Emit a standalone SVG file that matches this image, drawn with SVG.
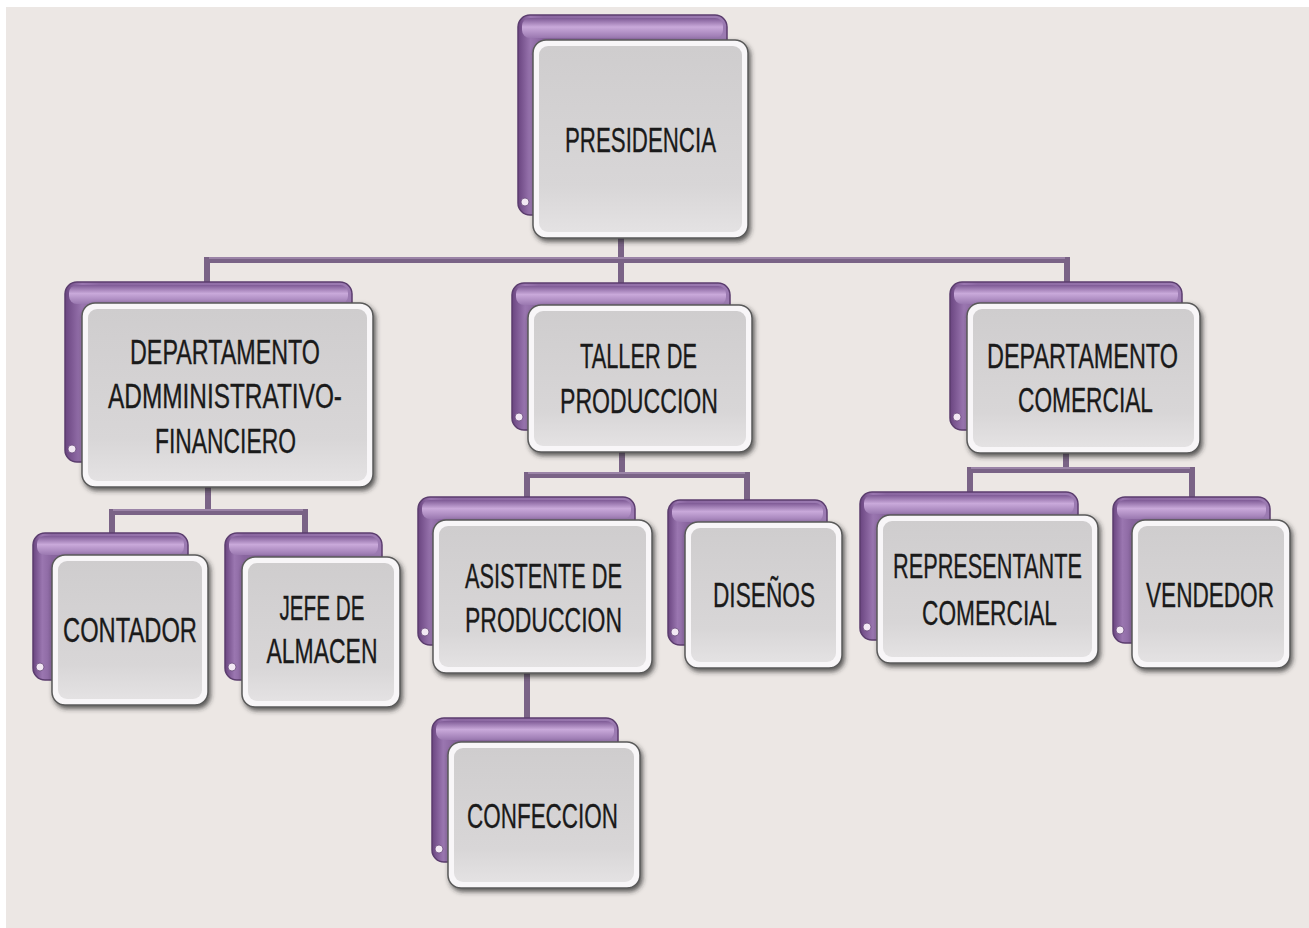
<svg xmlns="http://www.w3.org/2000/svg" width="1309" height="928" viewBox="0 0 1309 928">
<defs>
<linearGradient id="pSide" x1="0" y1="0" x2="1" y2="0">
<stop offset="0" stop-color="#6A4580"/>
<stop offset="0.06" stop-color="#9A76B0"/>
<stop offset="0.12" stop-color="#8A66A0"/>
<stop offset="1" stop-color="#9C7BB2"/>
</linearGradient>
<linearGradient id="pTop" x1="0" y1="0" x2="0" y2="1">
<stop offset="0" stop-color="#7E5A95"/>
<stop offset="0.45" stop-color="#C9A9DA"/>
<stop offset="1" stop-color="#9A78B0"/>
</linearGradient>
<linearGradient id="card" x1="0" y1="0" x2="0" y2="1">
<stop offset="0" stop-color="#CFCDCE"/>
<stop offset="0.75" stop-color="#D8D6D7"/>
<stop offset="1" stop-color="#E4E2E3"/>
</linearGradient>
<filter id="sh" x="-10%" y="-10%" width="125%" height="125%">
<feDropShadow dx="2" dy="3" stdDeviation="2.5" flood-color="#2a2a2a" flood-opacity="0.75"/>
</filter>
</defs>
<style>
.back{fill:url(#pSide);stroke:#5B3D6E;stroke-width:1.5}
.band{fill:url(#pTop)}
.dot{fill:#F2E8F4;stroke:#6A4A7C;stroke-width:0.8}
.outer{fill:#F8F6F8;stroke:#5A5A5A;stroke-width:1.5;filter:url(#sh)}
.inner{fill:url(#card)}
.t{font-family:"Liberation Sans Narrow","Liberation Sans",Arial,sans-serif;font-size:35px;fill:#1A1A1A;stroke:#1A1A1A;stroke-width:0.35;text-anchor:middle}
.cn{fill:none;stroke:#7A6386;stroke-width:6}
.ch{fill:none;stroke:#A690B2;stroke-width:1.5}
</style>
<rect x="0" y="0" width="1309" height="928" fill="#FFFFFF"/>
<rect x="6" y="7" width="1303" height="921" fill="#ECE7E4"/>

<g id="connectors">
<path class="cn" d="M621 238V260M207 283V260H1067V283M621 260V285"/>
<path class="cn" d="M208 487V512M112 535V512H305V535"/>
<path class="cn" d="M622 452V475M527 499V475H747V502"/>
<path class="cn" d="M1066 453V470M970 494V470H1192V499"/>
<path class="cn" d="M527 673V720"/>
<path class="ch" d="M209 258H1065M113 510H303M528 473H745M971 468H1190"/>
</g>

<g id="n-presidencia">
<path class="back" d="M530 15H715A12 12 0 0 1 727 27V203A12 12 0 0 1 715 215H530A12 12 0 0 1 518 203V27A12 12 0 0 1 530 15Z"/>
<rect class="band" x="522" y="18" width="201" height="20" rx="8"/>
<circle class="dot" cx="525" cy="202" r="4"/>
<rect class="outer" x="533" y="40" width="215" height="198" rx="13"/>
<rect class="inner" x="539" y="46" width="203" height="186" rx="9"/>
<text class="t" x="640.5" y="152" textLength="151" lengthAdjust="spacingAndGlyphs">PRESIDENCIA</text>
</g>

<g id="n-admin">
<path class="back" d="M77 282H340A12 12 0 0 1 352 294V450A12 12 0 0 1 340 462H77A12 12 0 0 1 65 450V294A12 12 0 0 1 77 282Z"/>
<rect class="band" x="69" y="285" width="279" height="19" rx="8"/>
<circle class="dot" cx="72" cy="449" r="4"/>
<rect class="outer" x="82" y="303" width="291" height="184" rx="13"/>
<rect class="inner" x="88" y="309" width="279" height="172" rx="9"/>
<text class="t" x="225" y="364" textLength="190" lengthAdjust="spacingAndGlyphs">DEPARTAMENTO</text>
<text class="t" x="225" y="408" textLength="234" lengthAdjust="spacingAndGlyphs">ADMMINISTRATIVO-</text>
<text class="t" x="225.5" y="453" textLength="141" lengthAdjust="spacingAndGlyphs">FINANCIERO</text>
</g>

<g id="n-taller">
<path class="back" d="M524 283H718A12 12 0 0 1 730 295V418A12 12 0 0 1 718 430H524A12 12 0 0 1 512 418V295A12 12 0 0 1 524 283Z"/>
<rect class="band" x="516" y="286" width="210" height="19" rx="8"/>
<circle class="dot" cx="519" cy="417" r="4"/>
<rect class="outer" x="528" y="305" width="224" height="147" rx="13"/>
<rect class="inner" x="534" y="311" width="212" height="135" rx="9"/>
<text class="t" x="638.5" y="368" textLength="117" lengthAdjust="spacingAndGlyphs">TALLER DE</text>
<text class="t" x="639" y="413" textLength="158" lengthAdjust="spacingAndGlyphs">PRODUCCION</text>
</g>

<g id="n-comercial">
<path class="back" d="M962 282H1170A12 12 0 0 1 1182 294V418A12 12 0 0 1 1170 430H962A12 12 0 0 1 950 418V294A12 12 0 0 1 962 282Z"/>
<rect class="band" x="954" y="285" width="224" height="19" rx="8"/>
<circle class="dot" cx="957" cy="417" r="4"/>
<rect class="outer" x="967" y="303" width="233" height="150" rx="13"/>
<rect class="inner" x="973" y="309" width="221" height="138" rx="9"/>
<text class="t" x="1082.5" y="368" textLength="191" lengthAdjust="spacingAndGlyphs">DEPARTAMENTO</text>
<text class="t" x="1085.5" y="412" textLength="135" lengthAdjust="spacingAndGlyphs">COMERCIAL</text>
</g>

<g id="n-contador">
<path class="back" d="M45 533H176A12 12 0 0 1 188 545V668A12 12 0 0 1 176 680H45A12 12 0 0 1 33 668V545A12 12 0 0 1 45 533Z"/>
<rect class="band" x="37" y="536" width="147" height="19" rx="8"/>
<circle class="dot" cx="40" cy="667" r="4"/>
<rect class="outer" x="52" y="555" width="156" height="150" rx="13"/>
<rect class="inner" x="58" y="561" width="144" height="138" rx="9"/>
<text class="t" x="130" y="642" textLength="134" lengthAdjust="spacingAndGlyphs">CONTADOR</text>
</g>

<g id="n-jefe">
<path class="back" d="M237 533H370A12 12 0 0 1 382 545V668A12 12 0 0 1 370 680H237A12 12 0 0 1 225 668V545A12 12 0 0 1 237 533Z"/>
<rect class="band" x="229" y="536" width="149" height="19" rx="8"/>
<circle class="dot" cx="232" cy="667" r="4"/>
<rect class="outer" x="242" y="557" width="158" height="150" rx="13"/>
<rect class="inner" x="248" y="563" width="146" height="138" rx="9"/>
<text class="t" x="322" y="620" textLength="85" lengthAdjust="spacingAndGlyphs">JEFE DE</text>
<text class="t" x="322" y="663" textLength="111" lengthAdjust="spacingAndGlyphs">ALMACEN</text>
</g>

<g id="n-asistente">
<path class="back" d="M430 497H623A12 12 0 0 1 635 509V633A12 12 0 0 1 623 645H430A12 12 0 0 1 418 633V509A12 12 0 0 1 430 497Z"/>
<rect class="band" x="422" y="500" width="209" height="19" rx="8"/>
<circle class="dot" cx="425" cy="632" r="4"/>
<rect class="outer" x="433" y="520" width="219" height="153" rx="13"/>
<rect class="inner" x="439" y="526" width="207" height="141" rx="9"/>
<text class="t" x="543.5" y="588" textLength="157" lengthAdjust="spacingAndGlyphs">ASISTENTE DE</text>
<text class="t" x="543.5" y="632" textLength="157" lengthAdjust="spacingAndGlyphs">PRODUCCION</text>
</g>

<g id="n-disenos">
<path class="back" d="M680 500H815A12 12 0 0 1 827 512V633A12 12 0 0 1 815 645H680A12 12 0 0 1 668 633V512A12 12 0 0 1 680 500Z"/>
<rect class="band" x="672" y="503" width="151" height="19" rx="8"/>
<circle class="dot" cx="675" cy="632" r="4"/>
<rect class="outer" x="685" y="522" width="157" height="146" rx="13"/>
<rect class="inner" x="691" y="528" width="145" height="134" rx="9"/>
<text class="t" x="764" y="607" textLength="102" lengthAdjust="spacingAndGlyphs">DISEÑOS</text>
</g>

<g id="n-representante">
<path class="back" d="M872 492H1066A12 12 0 0 1 1078 504V628A12 12 0 0 1 1066 640H872A12 12 0 0 1 860 628V504A12 12 0 0 1 872 492Z"/>
<rect class="band" x="864" y="495" width="210" height="19" rx="8"/>
<circle class="dot" cx="867" cy="627" r="4"/>
<rect class="outer" x="877" y="515" width="221" height="148" rx="13"/>
<rect class="inner" x="883" y="521" width="209" height="136" rx="9"/>
<text class="t" x="987.5" y="578" textLength="189" lengthAdjust="spacingAndGlyphs">REPRESENTANTE</text>
<text class="t" x="989.5" y="625" textLength="135" lengthAdjust="spacingAndGlyphs">COMERCIAL</text>
</g>

<g id="n-vendedor">
<path class="back" d="M1125 497H1258A12 12 0 0 1 1270 509V631A12 12 0 0 1 1258 643H1125A12 12 0 0 1 1113 631V509A12 12 0 0 1 1125 497Z"/>
<rect class="band" x="1117" y="500" width="149" height="19" rx="8"/>
<circle class="dot" cx="1120" cy="630" r="4"/>
<rect class="outer" x="1132" y="520" width="158" height="148" rx="13"/>
<rect class="inner" x="1138" y="526" width="146" height="136" rx="9"/>
<text class="t" x="1274" y="607" style="text-anchor:end" textLength="128" lengthAdjust="spacingAndGlyphs">VENDEDOR</text>
</g>

<g id="n-confeccion">
<path class="back" d="M444 718H606A12 12 0 0 1 618 730V850A12 12 0 0 1 606 862H444A12 12 0 0 1 432 850V730A12 12 0 0 1 444 718Z"/>
<rect class="band" x="436" y="721" width="178" height="19" rx="8"/>
<circle class="dot" cx="439" cy="849" r="4"/>
<rect class="outer" x="448" y="742" width="192" height="146" rx="13"/>
<rect class="inner" x="454" y="748" width="180" height="134" rx="9"/>
<text class="t" x="542.5" y="828" textLength="151" lengthAdjust="spacingAndGlyphs">CONFECCION</text>
</g>
</svg>
